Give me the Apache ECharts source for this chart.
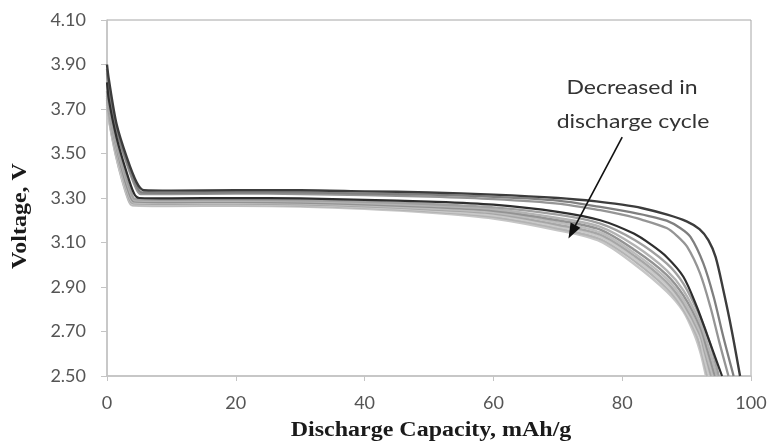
<!DOCTYPE html>
<html>
<head>
<meta charset="utf-8">
<script src="https://cdn.jsdelivr.net/npm/echarts@6/dist/echarts.min.js"></script>
<style>
html,body{margin:0;padding:0;background:#fff;}
#chart{width:771px;height:442px;}
</style>
</head>
<body>
<div id="chart"></div>
<script>
// Axis settings
var xTicks = [0, 20, 40, 60, 80, 100];
var yTicks = [2.5, 2.7, 2.9, 3.1, 3.3, 3.5, 3.7, 3.9, 4.1];

// Discharge curves: [capacity mAh/g, voltage V]
var cycle1 = [[0,3.90],[0.25,3.84],[1.5,3.63],[3.1,3.48],[4.6,3.37],[5.7,3.335],[10,3.333],[20,3.335],[30,3.335],[40,3.33],[50,3.325],[60,3.315],[70,3.30],[76,3.285],[80,3.27],[83,3.255],[87,3.225],[90,3.195],[92,3.16],[93.4,3.11],[94.5,3.035],[95.7,2.886],[97,2.706],[98.3,2.5]];
var cycle2 = [[0,3.88],[0.3,3.80],[1.5,3.61],[3,3.47],[4.5,3.36],[5.4,3.325],[10,3.323],[20,3.325],[30,3.325],[40,3.32],[50,3.315],[60,3.305],[70,3.288],[76.6,3.26],[80,3.243],[84,3.22],[86.9,3.198],[89,3.165],[90.6,3.125],[92.6,3.006],[94.2,2.856],[95.7,2.676],[97.3,2.5]];
var cycle3 = [[0,3.86],[0.3,3.78],[1.5,3.60],[3,3.46],[4.4,3.35],[5.2,3.318],[10,3.317],[20,3.32],[30,3.318],[40,3.313],[50,3.306],[60,3.295],[70,3.275],[76.6,3.245],[80,3.225],[83,3.203],[86.9,3.165],[88.5,3.13],[90.1,3.08],[92.1,2.96],[93.7,2.81],[95.1,2.65],[96.5,2.5]];
var cycle4 = [[0,3.82],[0.3,3.74],[1.5,3.57],[3,3.42],[4.2,3.32],[5,3.30],[10,3.298],[20,3.30],[30,3.298],[40,3.292],[50,3.284],[60,3.27],[70,3.238],[76.6,3.20],[81.8,3.14],[84.5,3.09],[86.9,3.035],[89.5,2.946],[91.6,2.81],[93.3,2.676],[95.5,2.5]];
var cycle5 = [[0,3.78],[0.3,3.71],[1.4,3.56],[2.6,3.43],[3.7,3.33],[4.4,3.295],[10,3.292],[20,3.293],[30,3.29],[40,3.283],[50,3.273],[60,3.258],[70,3.225],[76.6,3.185],[82,3.11],[86.9,3.006],[89.5,2.915],[92.1,2.766],[93.6,2.65],[95.0,2.5]];
var cycle6 = [[0,3.77],[0.3,3.70],[1.4,3.55],[2.6,3.42],[3.7,3.32],[4.3,3.29],[10,3.287],[20,3.288],[30,3.285],[40,3.277],[50,3.266],[60,3.25],[70,3.21],[76.6,3.17],[82,3.085],[86.9,2.975],[89.5,2.885],[92.1,2.74],[93.4,2.63],[94.7,2.5]];
var cycle7 = [[0,3.76],[0.3,3.69],[1.4,3.54],[2.5,3.41],[3.6,3.31],[4.2,3.285],[10,3.282],[20,3.283],[30,3.28],[40,3.272],[50,3.26],[60,3.243],[70,3.2],[76.6,3.158],[82,3.065],[86.9,2.955],[89.5,2.862],[92.1,2.72],[93.2,2.62],[94.4,2.5]];
var cycle8 = [[0,3.75],[0.3,3.68],[1.4,3.53],[2.5,3.40],[3.6,3.30],[4.2,3.28],[10,3.278],[20,3.279],[30,3.276],[40,3.267],[50,3.254],[60,3.236],[70,3.19],[76.6,3.145],[82,3.05],[86.9,2.938],[89.5,2.842],[92.1,2.7],[93.0,2.61],[94.1,2.5]];
var cycle9 = [[0,3.74],[0.3,3.67],[1.3,3.52],[2.5,3.39],[3.5,3.295],[4.1,3.276],[10,3.274],[20,3.275],[30,3.272],[40,3.263],[50,3.249],[60,3.23],[70,3.18],[76.6,3.135],[82,3.038],[86.9,2.922],[89.5,2.826],[92.1,2.684],[92.8,2.61],[93.8,2.5]];
var cycle10 = [[0,3.73],[0.3,3.66],[1.3,3.51],[2.4,3.385],[3.5,3.29],[4.1,3.273],[10,3.271],[20,3.272],[30,3.269],[40,3.259],[50,3.245],[60,3.222],[70,3.172],[76.6,3.125],[82,3.026],[86.9,2.908],[89.5,2.812],[92.1,2.668],[92.6,2.6],[93.5,2.5]];
var cycle11 = [[0,3.72],[0.3,3.655],[1.3,3.505],[2.4,3.38],[3.4,3.29],[4,3.27],[10,3.267],[20,3.268],[30,3.265],[40,3.256],[50,3.24],[60,3.215],[70,3.163],[76.6,3.115],[82,3.015],[86.9,2.895],[89.5,2.8],[91.5,2.685],[92.4,2.6],[93.2,2.5]];
var cycle12 = [[0,3.71],[0.3,3.65],[1.3,3.50],[2.4,3.375],[3.4,3.285],[4,3.266],[10,3.264],[20,3.265],[30,3.262],[40,3.252],[50,3.235],[60,3.208],[70,3.155],[76.6,3.105],[82,3.0],[86.9,2.88],[89.5,2.79],[91.3,2.68],[92.2,2.6],[93.0,2.5]];

// Annotation arrow (data coordinates: tail, head)
var arrowTail = [80.0, 3.574];
var arrowHead = [72.2, 3.148];
var noteLines = ['Decreased in', 'discharge cycle'];

// Draw order (lightest first) and colours
var curves = [cycle12, cycle11, cycle10, cycle9, cycle8, cycle7, cycle6, cycle5, cycle3, cycle2, cycle1, cycle4];
var curveColors = ['#c6c6c6', '#b3b3b3', '#c9c9c9', '#a6a6a6', '#bcbcbc', '#939393', '#b3b3b3', '#a0a0a0', '#959595', '#7f7f7f', '#3c3c3c', '#2e2e2e'];
var curveWidths = [2.4, 2.4, 2.4, 2.4, 2.4, 2.4, 2.4, 2.4, 2.3, 2.3, 2.4, 2.2];

var series = curves.map(function (d, i) {
  return {
    type: 'line',
    data: d,
    showSymbol: false,
    smooth: 0.3,
    lineStyle: { color: curveColors[i], width: curveWidths[i] },
    z: 2 + i,
    silent: true,
    animation: false
  };
});
series.push({
  type: 'line',
  data: [],
  silent: true,
  animation: false,
  z: 40,
  markLine: {
    silent: true,
    animation: false,
    z: 40,
    symbol: ['none', 'triangle'],
    symbolSize: [11, 15],
    symbolKeepAspect: false,
    label: { show: false },
    lineStyle: { color: '#111111', width: 1.6, type: 'solid', opacity: 1 },
    itemStyle: { color: '#111111' },
    data: [[{ coord: arrowTail }, { coord: arrowHead }]]
  }
});

var chart = echarts.init(document.getElementById('chart'), null, { renderer: 'canvas' });
chart.setOption({
  backgroundColor: '#ffffff',
  animation: false,
  grid: { left: 107, right: 20, top: 20, bottom: 66, show: true, borderColor: '#a6a6a6', borderWidth: 1 },
  xAxis: {
    type: 'value', min: xTicks[0], max: xTicks[xTicks.length - 1], interval: 20,
    axisLine: { show: true, lineStyle: { color: '#c4c4c4', width: 1.5 } },
    axisTick: { show: true, inside: false, length: 5, lineStyle: { color: '#c4c4c4' } },
    axisLabel: { color: '#555555', fontFamily: 'Lato', fontSize: 18, margin: 18 },
    splitLine: { show: false }
  },
  yAxis: {
    type: 'value', min: yTicks[0], max: yTicks[yTicks.length - 1], interval: 0.2,
    axisLine: { show: true, lineStyle: { color: '#c4c4c4', width: 1.5 } },
    axisTick: { show: true, inside: false, length: 6, lineStyle: { color: '#c4c4c4' } },
    axisLabel: { color: '#555555', fontFamily: 'Lato', fontSize: 18, margin: 21, formatter: function (v) { return v.toFixed(2); } },
    splitLine: { show: false }
  },
  graphic: [
    { type: 'text', x: 21, y: 216, rotation: Math.PI / 2, scaleX: 1.2, style: { text: 'Voltage, V', font: 'bold 20px "Liberation Serif"', fill: '#1a1a1a', textAlign: 'center', textVerticalAlign: 'middle' } },
    { type: 'text', x: 431, y: 431, scaleX: 1.2, style: { text: 'Discharge Capacity, mAh/g', font: 'bold 20px "Liberation Serif"', fill: '#1a1a1a', textAlign: 'center', textVerticalAlign: 'middle' } },
    { type: 'text', x: 632, y: 88, scaleX: 1.15, style: { text: noteLines[0], font: '20px Lato', fill: '#333333', textAlign: 'center', textVerticalAlign: 'middle' } },
    { type: 'text', x: 633, y: 122, scaleX: 1.15, style: { text: noteLines[1], font: '20px Lato', fill: '#333333', textAlign: 'center', textVerticalAlign: 'middle' } }
  ],
  series: series
});
</script>
</body>
</html>
